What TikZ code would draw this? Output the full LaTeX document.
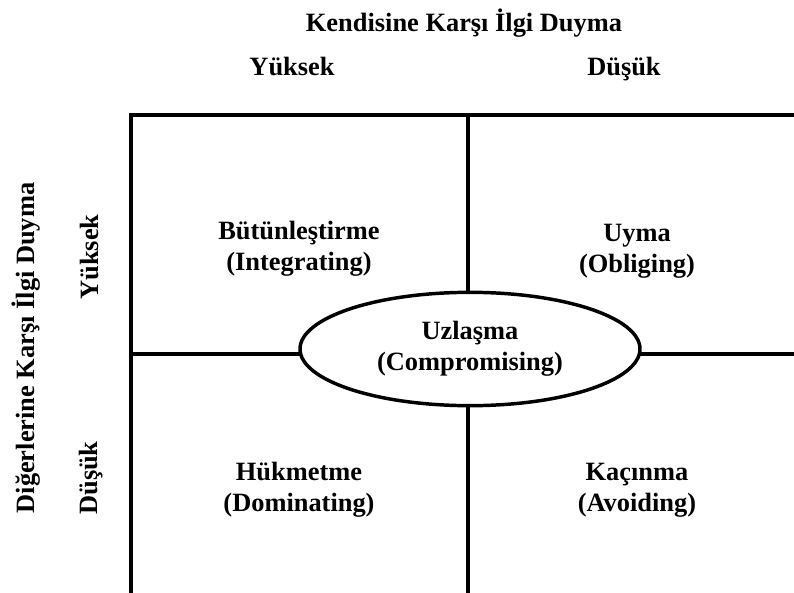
\documentclass[tikz,border=0pt]{standalone}
\usepackage{fontspec}
\setmainfont{Liberation Serif}
\usetikzlibrary{shapes.geometric}

\tikzset{
  yazi/.style={font=\fontsize{19.8pt}{23.5pt}\selectfont\bfseries, inner sep=0pt},
  kutu/.style={yazi, align=center},
  cizgi/.style={line width=2.6pt}
}

\begin{document}
\begin{tikzpicture}[x=0.75pt, y=-0.75pt]
        \useasboundingbox (0,0) rectangle (794,593);

        % Izgara (koseler)
        \coordinate (SolAlt) at (131,593);
        \coordinate (SolUst) at (131,115);
        \coordinate (SagUst) at (794,115);
        \coordinate (OrtaUst) at (468,115);
        \coordinate (OrtaAlt) at (468,593);
        \coordinate (SolOrta) at (131,354);
        \coordinate (SagOrta) at (794,354);

        \draw[cizgi, line join=miter] (SolAlt) -- (SolUst) -- (SagUst);
        \draw[cizgi] (OrtaUst) -- (OrtaAlt);
        \draw[cizgi] (SolOrta) -- (SagOrta);

        % Uzlasma (elips)
        \node[kutu, ellipse, draw, cizgi, fill=white, minimum width=255pt, minimum height=85pt]
            (uzlasma) at (470,349) {Uzla\c{s}ma\\(Compromising)};

        % Eksen basliklari
        \node[yazi, anchor=base] (kendisine) at (464,31) {Kendisine Kar\c{s}\i{} \.Ilgi Duyma};
        \node[yazi, anchor=base] (ustYuksek) at (292,75) {Yüksek};
        \node[yazi, anchor=base] (ustDusuk) at (624,75) {Düşük};

        \node[yazi, anchor=base, rotate=90] (digerlerine) at (35,348) {Diğerlerine Kar\c{s}\i{} \.Ilgi Duyma};
        \node[yazi, anchor=base, rotate=90] (solYuksek) at (98,257) {Yüksek};
        \node[yazi, anchor=base, rotate=90] (solDusuk) at (97,478) {Düşük};

        % Stiller
        \node[kutu] (butunlestirme) at (299,249) {Bütünleştirme\\(Integrating)};
        \node[kutu] (uyma) at (637,251) {Uyma\\(Obliging)};
        \node[kutu] (hukmetme) at (299,490) {Hükmetme\\(Dominating)};
        \node[kutu] (kacinma) at (637,490) {Kaçınma\\(Avoiding)};

\end{tikzpicture}
\end{document}
